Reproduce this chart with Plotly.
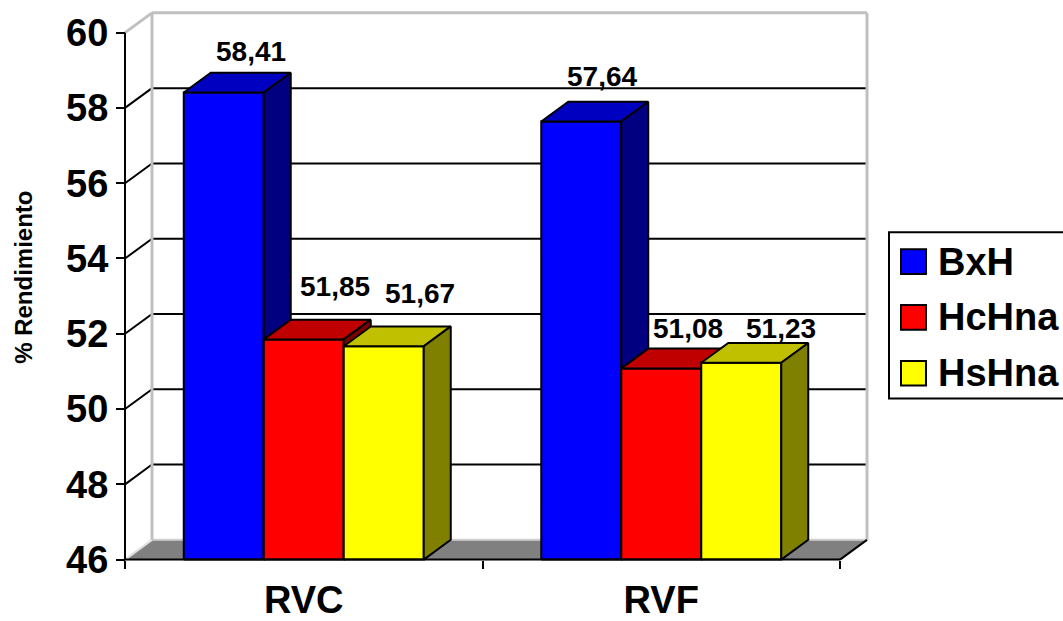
import plotly.graph_objects as go

# ---- data -------------------------------------------------------------
categories = ["RVC", "RVF"]
series_names = ["BxH", "HcHna", "HsHna"]
bxh = [58.41, 57.64]
hchna = [51.85, 51.08]
hshna = [51.67, 51.23]
y_ticks = [46, 48, 50, 52, 54, 56, 58, 60]

series_values = [bxh, hchna, hshna]

# ---- styling ------------------------------------------------------------
front_colors = ["#0000FF", "#FF0000", "#FFFF00"]
top_colors = ["#0000C0", "#C00000", "#C0C000"]
side_colors = ["#000080", "#800000", "#808000"]
FONT = "Liberation Sans, Arial, sans-serif"
WALL_EDGE = "#C0C0C0"
FLOOR = "#808080"

W, H = 1063, 621
CAT_PX = 357.5      # pixels per category step
UNIT_PX = 38.07     # pixels per percentage point
AXIS_X_PX = 125     # left end of the front category axis
AXIS_Y_PX = 566     # floor level of the front plane
DEPTH_X_PX, DEPTH_Y_PX = 27, 20   # oblique depth of the 3-D box
BAR_PX = 80         # width of one bar

# per-label offsets (xshift, yshift in px) of the value labels, [series][category]
label_shift = [[(0, 21), (-6, 25)],
               [(4, 33), (0, 20)],
               [(9, 33), (13, 14)]]

y_min, y_max = y_ticks[0], y_ticks[-1]
x_min, x_max = -0.5, len(categories) - 0.5

box_l, box_r, box_t, box_b = 112, 882, 4, 582
x_range = [x_min - (AXIS_X_PX - box_l) / CAT_PX, x_min + (box_r - AXIS_X_PX) / CAT_PX]
y_range = [y_min - (box_b - AXIS_Y_PX) / UNIT_PX, y_min + (AXIS_Y_PX - box_t) / UNIT_PX]
dx = DEPTH_X_PX / CAT_PX
dy = DEPTH_Y_PX / UNIT_PX
bw = BAR_PX / CAT_PX

fig = go.Figure()


def poly(xs, ys, fill, line_color="black", width=2):
    fig.add_trace(go.Scatter(
        x=list(xs) + [xs[0]], y=list(ys) + [ys[0]], mode="lines",
        fill="toself", fillcolor=fill,
        line=dict(color=line_color, width=width),
        hoverinfo="skip", showlegend=False))


def seg(x0, y0, x1, y1, color="black", width=2):
    fig.add_trace(go.Scatter(
        x=[x0, x1], y=[y0, y1], mode="lines",
        line=dict(color=color, width=width),
        hoverinfo="skip", showlegend=False))


# floor of the box
poly([x_min, x_max, x_max + dx, x_min + dx],
     [y_min, y_min, y_min + dy, y_min + dy], FLOOR, line_color=FLOOR, width=1)
seg(x_min, y_min, x_min + dx, y_min + dy, "#E0E0E0", 2)
seg(x_min + dx, y_min + dy, x_max + dx, y_min + dy, "#D0D0D0", 2)

# gridlines on the back wall and their continuation on the side wall
for v in y_ticks[1:-1]:
    seg(x_min + dx, v + dy, x_max + dx, v + dy)
    seg(x_min, v, x_min + dx, v + dy)

# outer edges of the walls
seg(x_min, y_max, x_min + dx, y_max + dy, WALL_EDGE, 3)
seg(x_min + dx, y_max + dy, x_max + dx, y_max + dy, WALL_EDGE, 3)
seg(x_min + dx, y_min + dy, x_min + dx, y_max + dy, WALL_EDGE, 3)
seg(x_max + dx, y_min + dy, x_max + dx, y_max + dy, WALL_EDGE, 3)

# bars: front face, top face and right side face
for ci, _cat in enumerate(categories):
    for si, values in enumerate(series_values):
        v = values[ci]
        x0 = ci + (si - 1.5) * bw
        x1 = x0 + bw
        poly([x0, x1, x1, x0], [y_min, y_min, v, v], front_colors[si])
        poly([x0, x1, x1 + dx, x0 + dx], [v, v, v + dy, v + dy], top_colors[si])
        poly([x1, x1 + dx, x1 + dx, x1], [y_min, y_min + dy, v + dy, v], side_colors[si])

# front axes of the box
seg(x_max, y_min, x_max + dx, y_min + dy)
seg(x_min, y_min, x_max, y_min)
seg(x_min, y_min, x_min, y_max)

# value labels
annotations = []
for si, values in enumerate(series_values):
    for ci, v in enumerate(values):
        xs, ys = label_shift[si][ci]
        annotations.append(dict(
            x=ci + (si - 1) * bw + dx, y=v + dy, xref="x", yref="y",
            text=f"{v:.2f}".replace(".", ","), showarrow=False,
            xanchor="center", yanchor="middle", xshift=xs, yshift=ys,
            font=dict(family=FONT, size=28, color="black", weight="bold")))

# axis title
annotations.append(dict(
    x=24 / W, y=1 - 281 / H, xref="paper", yref="paper",
    text="% Rendimiento", textangle=-90, showarrow=False,
    xanchor="center", yanchor="middle",
    font=dict(family=FONT, size=24, color="black", weight="bold")))

# legend
shapes = []
LEG_L, LEG_T, LEG_B, LEG_R = 889, 235, 403, 1080
shapes.append(dict(type="rect", xref="paper", yref="paper",
                   x0=LEG_L / W, x1=LEG_R / W, y0=1 - LEG_B / H, y1=1 - LEG_T / H,
                   line=dict(color="black", width=2), fillcolor="white", layer="above"))
row0, row_step, sw = 264.5, 56.5, 25
for si, name in enumerate(series_names):
    cy = row0 + si * row_step
    shapes.append(dict(type="rect", xref="paper", yref="paper",
                       x0=901 / W, x1=(901 + sw) / W,
                       y0=1 - (cy + sw / 2) / H, y1=1 - (cy - sw / 2) / H,
                       line=dict(color="black", width=2),
                       fillcolor=front_colors[si], layer="above"))
    annotations.append(dict(
        x=936 / W, y=1 - cy / H, xref="paper", yref="paper", text=name,
        showarrow=False, xanchor="left", yanchor="middle",
        font=dict(family=FONT, size=38, color="black", weight="bold")))

fig.update_layout(
    width=W, height=H, margin=dict(l=0, r=0, t=0, b=0),
    paper_bgcolor="white", plot_bgcolor="white",
    showlegend=False, annotations=annotations, shapes=shapes,
    xaxis=dict(
        domain=[box_l / W, box_r / W], range=x_range,
        anchor="free", position=1 - AXIS_Y_PX / H,
        tickmode="array", tickvals=list(range(len(categories))), ticktext=categories,
        ticks="", showline=False, showgrid=False, zeroline=False,
        ticklabelstandoff=14,
        tickfont=dict(family=FONT, size=38, color="black", weight="bold"),
        minor=dict(tickmode="array",
                   tickvals=[i - 0.5 for i in range(len(categories) + 1)],
                   ticks="outside", ticklen=8, tickwidth=2, tickcolor="black",
                   showgrid=False),
        fixedrange=True),
    yaxis=dict(
        domain=[1 - box_b / H, 1 - box_t / H], range=y_range,
        anchor="free", position=AXIS_X_PX / W,
        tickmode="array", tickvals=y_ticks, ticktext=[str(t) for t in y_ticks],
        ticks="outside", ticklen=9, tickwidth=2, tickcolor="black",
        showline=False, showgrid=False, zeroline=False,
        tickfont=dict(family=FONT, size=38, color="black", weight="bold"),
        fixedrange=True),
)

fig.write_html("out.html")
